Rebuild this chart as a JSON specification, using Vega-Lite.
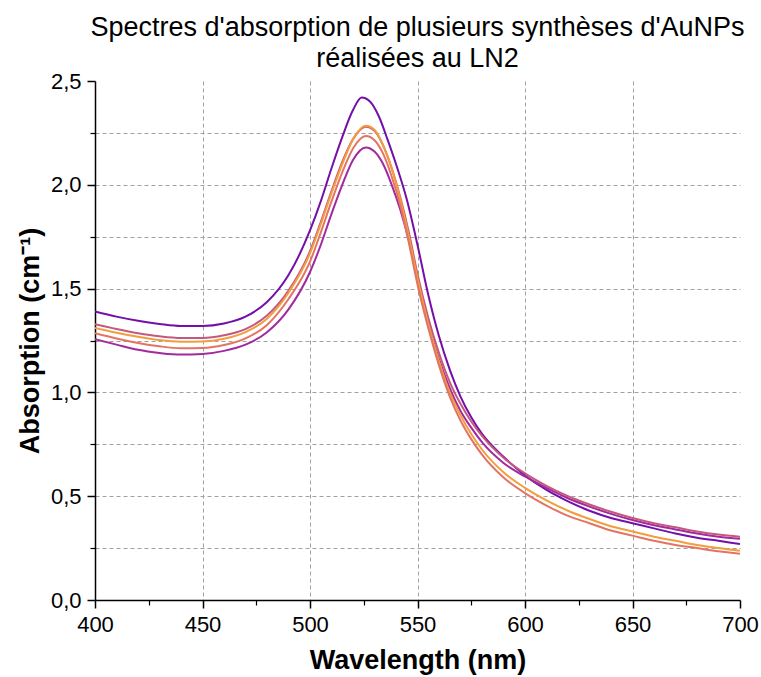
{
  "$schema": "https://vega.github.io/schema/vega-lite/v6.json",
  "autosize": "none",
  "width": 645,
  "height": 519,
  "padding": {"left": 95, "top": 81, "right": 21, "bottom": 77},
  "background": "white",
  "config": {"view": {"stroke": null}, "font": "Liberation Sans"},
  "title": {
    "text": ["Spectres d'absorption de plusieurs synthèses d'AuNPs", "réalisées au LN2"],
    "font": "Liberation Sans",
    "fontSize": 27,
    "fontWeight": "normal",
    "color": "black",
    "anchor": "middle",
    "offset": -3,
    "lineHeight": 31
  },
  "datasets": {
    "spectra": [
      {"s": "A", "wl": 400, "a": 1.39}, {"s": "A", "wl": 410, "a": 1.365}, {"s": "A", "wl": 420, "a": 1.345}, {"s": "A", "wl": 430, "a": 1.33}, {"s": "A", "wl": 440, "a": 1.32}, {"s": "A", "wl": 450, "a": 1.32}, {"s": "A", "wl": 460, "a": 1.332}, {"s": "A", "wl": 470, "a": 1.365}, {"s": "A", "wl": 480, "a": 1.435}, {"s": "A", "wl": 490, "a": 1.565}, {"s": "A", "wl": 500, "a": 1.78}, {"s": "A", "wl": 505, "a": 1.92}, {"s": "A", "wl": 510, "a": 2.08}, {"s": "A", "wl": 515, "a": 2.23}, {"s": "A", "wl": 520, "a": 2.36}, {"s": "A", "wl": 524, "a": 2.42}, {"s": "A", "wl": 528, "a": 2.4}, {"s": "A", "wl": 532, "a": 2.33}, {"s": "A", "wl": 536, "a": 2.22}, {"s": "A", "wl": 540, "a": 2.1}, {"s": "A", "wl": 545, "a": 1.93}, {"s": "A", "wl": 550, "a": 1.71}, {"s": "A", "wl": 555, "a": 1.47}, {"s": "A", "wl": 560, "a": 1.27}, {"s": "A", "wl": 565, "a": 1.11}, {"s": "A", "wl": 570, "a": 0.98}, {"s": "A", "wl": 575, "a": 0.88}, {"s": "A", "wl": 580, "a": 0.8}, {"s": "A", "wl": 590, "a": 0.69}, {"s": "A", "wl": 600, "a": 0.6}, {"s": "A", "wl": 610, "a": 0.53}, {"s": "A", "wl": 620, "a": 0.475}, {"s": "A", "wl": 630, "a": 0.43}, {"s": "A", "wl": 640, "a": 0.395}, {"s": "A", "wl": 650, "a": 0.37}, {"s": "A", "wl": 660, "a": 0.345}, {"s": "A", "wl": 670, "a": 0.32}, {"s": "A", "wl": 680, "a": 0.3}, {"s": "A", "wl": 690, "a": 0.285}, {"s": "A", "wl": 700, "a": 0.27},

      {"s": "B", "wl": 400, "a": 1.256}, {"s": "B", "wl": 410, "a": 1.23}, {"s": "B", "wl": 420, "a": 1.205}, {"s": "B", "wl": 430, "a": 1.19}, {"s": "B", "wl": 440, "a": 1.182}, {"s": "B", "wl": 450, "a": 1.185}, {"s": "B", "wl": 460, "a": 1.2}, {"s": "B", "wl": 470, "a": 1.23}, {"s": "B", "wl": 480, "a": 1.29}, {"s": "B", "wl": 490, "a": 1.4}, {"s": "B", "wl": 500, "a": 1.58}, {"s": "B", "wl": 505, "a": 1.71}, {"s": "B", "wl": 510, "a": 1.86}, {"s": "B", "wl": 515, "a": 2.0}, {"s": "B", "wl": 520, "a": 2.12}, {"s": "B", "wl": 526, "a": 2.18}, {"s": "B", "wl": 530, "a": 2.16}, {"s": "B", "wl": 534, "a": 2.1}, {"s": "B", "wl": 538, "a": 2.0}, {"s": "B", "wl": 542, "a": 1.88}, {"s": "B", "wl": 546, "a": 1.73}, {"s": "B", "wl": 550, "a": 1.54}, {"s": "B", "wl": 555, "a": 1.33}, {"s": "B", "wl": 560, "a": 1.16}, {"s": "B", "wl": 565, "a": 1.02}, {"s": "B", "wl": 570, "a": 0.91}, {"s": "B", "wl": 575, "a": 0.83}, {"s": "B", "wl": 580, "a": 0.76}, {"s": "B", "wl": 590, "a": 0.66}, {"s": "B", "wl": 600, "a": 0.595}, {"s": "B", "wl": 610, "a": 0.54}, {"s": "B", "wl": 620, "a": 0.49}, {"s": "B", "wl": 630, "a": 0.45}, {"s": "B", "wl": 640, "a": 0.415}, {"s": "B", "wl": 650, "a": 0.385}, {"s": "B", "wl": 660, "a": 0.36}, {"s": "B", "wl": 670, "a": 0.34}, {"s": "B", "wl": 680, "a": 0.32}, {"s": "B", "wl": 690, "a": 0.305}, {"s": "B", "wl": 700, "a": 0.295},

      {"s": "C", "wl": 400, "a": 1.328}, {"s": "C", "wl": 410, "a": 1.305}, {"s": "C", "wl": 420, "a": 1.285}, {"s": "C", "wl": 430, "a": 1.27}, {"s": "C", "wl": 440, "a": 1.262}, {"s": "C", "wl": 450, "a": 1.262}, {"s": "C", "wl": 460, "a": 1.275}, {"s": "C", "wl": 470, "a": 1.305}, {"s": "C", "wl": 480, "a": 1.37}, {"s": "C", "wl": 490, "a": 1.49}, {"s": "C", "wl": 500, "a": 1.68}, {"s": "C", "wl": 505, "a": 1.82}, {"s": "C", "wl": 510, "a": 1.97}, {"s": "C", "wl": 515, "a": 2.11}, {"s": "C", "wl": 520, "a": 2.22}, {"s": "C", "wl": 526, "a": 2.28}, {"s": "C", "wl": 530, "a": 2.26}, {"s": "C", "wl": 534, "a": 2.19}, {"s": "C", "wl": 538, "a": 2.08}, {"s": "C", "wl": 542, "a": 1.94}, {"s": "C", "wl": 546, "a": 1.77}, {"s": "C", "wl": 550, "a": 1.57}, {"s": "C", "wl": 555, "a": 1.36}, {"s": "C", "wl": 560, "a": 1.19}, {"s": "C", "wl": 565, "a": 1.05}, {"s": "C", "wl": 570, "a": 0.945}, {"s": "C", "wl": 575, "a": 0.86}, {"s": "C", "wl": 580, "a": 0.79}, {"s": "C", "wl": 590, "a": 0.685}, {"s": "C", "wl": 600, "a": 0.61}, {"s": "C", "wl": 610, "a": 0.55}, {"s": "C", "wl": 620, "a": 0.5}, {"s": "C", "wl": 630, "a": 0.46}, {"s": "C", "wl": 640, "a": 0.425}, {"s": "C", "wl": 650, "a": 0.395}, {"s": "C", "wl": 660, "a": 0.37}, {"s": "C", "wl": 670, "a": 0.35}, {"s": "C", "wl": 680, "a": 0.33}, {"s": "C", "wl": 690, "a": 0.315}, {"s": "C", "wl": 700, "a": 0.305},

      {"s": "D", "wl": 400, "a": 1.31}, {"s": "D", "wl": 410, "a": 1.287}, {"s": "D", "wl": 420, "a": 1.268}, {"s": "D", "wl": 430, "a": 1.252}, {"s": "D", "wl": 440, "a": 1.244}, {"s": "D", "wl": 450, "a": 1.245}, {"s": "D", "wl": 460, "a": 1.258}, {"s": "D", "wl": 470, "a": 1.29}, {"s": "D", "wl": 480, "a": 1.355}, {"s": "D", "wl": 490, "a": 1.48}, {"s": "D", "wl": 500, "a": 1.67}, {"s": "D", "wl": 505, "a": 1.81}, {"s": "D", "wl": 510, "a": 1.96}, {"s": "D", "wl": 515, "a": 2.1}, {"s": "D", "wl": 520, "a": 2.22}, {"s": "D", "wl": 526, "a": 2.285}, {"s": "D", "wl": 530, "a": 2.265}, {"s": "D", "wl": 534, "a": 2.19}, {"s": "D", "wl": 538, "a": 2.08}, {"s": "D", "wl": 542, "a": 1.93}, {"s": "D", "wl": 546, "a": 1.75}, {"s": "D", "wl": 550, "a": 1.55}, {"s": "D", "wl": 555, "a": 1.33}, {"s": "D", "wl": 560, "a": 1.15}, {"s": "D", "wl": 565, "a": 1.0}, {"s": "D", "wl": 570, "a": 0.89}, {"s": "D", "wl": 575, "a": 0.8}, {"s": "D", "wl": 580, "a": 0.725}, {"s": "D", "wl": 590, "a": 0.615}, {"s": "D", "wl": 600, "a": 0.54}, {"s": "D", "wl": 610, "a": 0.48}, {"s": "D", "wl": 620, "a": 0.43}, {"s": "D", "wl": 630, "a": 0.39}, {"s": "D", "wl": 640, "a": 0.355}, {"s": "D", "wl": 650, "a": 0.33}, {"s": "D", "wl": 660, "a": 0.305}, {"s": "D", "wl": 670, "a": 0.285}, {"s": "D", "wl": 680, "a": 0.265}, {"s": "D", "wl": 690, "a": 0.25}, {"s": "D", "wl": 700, "a": 0.237},

      {"s": "E", "wl": 400, "a": 1.285}, {"s": "E", "wl": 410, "a": 1.26}, {"s": "E", "wl": 420, "a": 1.238}, {"s": "E", "wl": 430, "a": 1.222}, {"s": "E", "wl": 440, "a": 1.213}, {"s": "E", "wl": 450, "a": 1.214}, {"s": "E", "wl": 460, "a": 1.228}, {"s": "E", "wl": 470, "a": 1.26}, {"s": "E", "wl": 480, "a": 1.325}, {"s": "E", "wl": 490, "a": 1.45}, {"s": "E", "wl": 500, "a": 1.63}, {"s": "E", "wl": 505, "a": 1.77}, {"s": "E", "wl": 510, "a": 1.92}, {"s": "E", "wl": 515, "a": 2.06}, {"s": "E", "wl": 520, "a": 2.175}, {"s": "E", "wl": 526, "a": 2.235}, {"s": "E", "wl": 530, "a": 2.215}, {"s": "E", "wl": 534, "a": 2.15}, {"s": "E", "wl": 538, "a": 2.04}, {"s": "E", "wl": 542, "a": 1.9}, {"s": "E", "wl": 546, "a": 1.72}, {"s": "E", "wl": 550, "a": 1.52}, {"s": "E", "wl": 555, "a": 1.31}, {"s": "E", "wl": 560, "a": 1.13}, {"s": "E", "wl": 565, "a": 0.98}, {"s": "E", "wl": 570, "a": 0.865}, {"s": "E", "wl": 575, "a": 0.775}, {"s": "E", "wl": 580, "a": 0.7}, {"s": "E", "wl": 590, "a": 0.59}, {"s": "E", "wl": 600, "a": 0.515}, {"s": "E", "wl": 610, "a": 0.455}, {"s": "E", "wl": 620, "a": 0.405}, {"s": "E", "wl": 630, "a": 0.37}, {"s": "E", "wl": 640, "a": 0.335}, {"s": "E", "wl": 650, "a": 0.31}, {"s": "E", "wl": 660, "a": 0.285}, {"s": "E", "wl": 670, "a": 0.265}, {"s": "E", "wl": 680, "a": 0.25}, {"s": "E", "wl": 690, "a": 0.235}, {"s": "E", "wl": 700, "a": 0.223}
    ]
  },
  "data": {"name": "spectra"},
  "resolve": {"axis": {"x": "independent", "y": "independent"}},
  "layer": [
    {
      "mark": {"type": "line", "strokeWidth": 2, "interpolate": "monotone", "clip": true},
      "encoding": {
        "x": {
          "field": "wl", "type": "quantitative",
          "scale": {"domain": [400, 700], "nice": false, "zero": false},
          "axis": {
            "orient": "bottom",
            "values": [425, 475, 525, 575, 625, 675],
            "labels": false, "domain": false, "grid": false,
            "ticks": true, "tickSize": 5, "tickColor": "black", "tickWidth": 1.2,
            "title": null
          }
        },
        "y": {
          "field": "a", "type": "quantitative",
          "scale": {"domain": [0, 2.5], "nice": false, "zero": true},
          "axis": {
            "orient": "left",
            "values": [0.25, 0.75, 1.25, 1.75, 2.25],
            "labels": false, "domain": false,
            "grid": true, "gridColor": "#a0a0a0", "gridDash": [4, 3], "gridWidth": 1,
            "ticks": true, "tickSize": 5, "tickColor": "black", "tickWidth": 1.2,
            "title": null
          }
        },
        "color": {
          "field": "s", "type": "nominal",
          "scale": {"domain": ["A", "B", "C", "D", "E"], "range": ["#7410a8", "#a02a9e", "#c4587f", "#f29e3e", "#e47462"]},
          "legend": null
        }
      }
    },
    {
      "mark": {"type": "line", "strokeOpacity": 0, "clip": true},
      "encoding": {
        "x": {
          "field": "wl", "type": "quantitative",
          "axis": {
            "orient": "bottom",
            "values": [400, 450, 500, 550, 600, 650, 700],
            "format": "d",
            "labelFont": "Liberation Sans", "labelFontSize": 22, "labelColor": "black",
            "labelPadding": 6, "labelFlush": false,
            "domain": true, "domainColor": "black", "domainWidth": 1.5,
            "grid": true, "gridColor": "#a0a0a0", "gridDash": [4, 3], "gridWidth": 1,
            "gridOpacity": {"condition": {"test": "datum.value >= 700 || datum.value <= 400", "value": 0}, "value": 1},
            "ticks": true, "tickSize": 8, "tickColor": "black", "tickWidth": 1.5,
            "title": "Wavelength (nm)",
            "titleFont": "Liberation Sans", "titleFontSize": 27, "titleFontWeight": "bold", "titleColor": "black",
            "titlePadding": 12
          }
        },
        "y": {
          "field": "a", "type": "quantitative",
          "axis": {
            "orient": "left",
            "values": [0, 0.5, 1, 1.5, 2, 2.5],
            "labelExpr": "replace(format(datum.value, '.1f'), '.', ',')",
            "labelFont": "Liberation Sans", "labelFontSize": 22, "labelColor": "black",
            "labelPadding": 6, "labelFlush": false,
            "domain": true, "domainColor": "black", "domainWidth": 1.5,
            "grid": true, "gridColor": "#a0a0a0", "gridDash": [4, 3], "gridWidth": 1,
            "gridOpacity": {"condition": {"test": "datum.value >= 2.5 || datum.value <= 0", "value": 0}, "value": 1},
            "ticks": true, "tickSize": 8, "tickColor": "black", "tickWidth": 1.5,
            "title": "Absorption (cm⁻¹)",
            "titleFont": "Liberation Sans", "titleFontSize": 27, "titleFontWeight": "bold", "titleColor": "black",
            "titlePadding": 6
          }
        },
        "detail": {"field": "s", "type": "nominal"}
      }
    }
  ]
}
